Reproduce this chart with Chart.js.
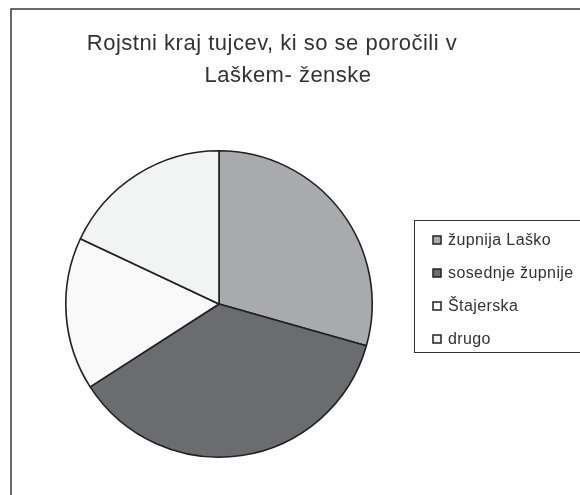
<!DOCTYPE html>
<html>
<head>
<meta charset="utf-8">
<script src="https://cdn.jsdelivr.net/npm/chart.js@4"></script>
<style>
  body { margin: 0; background: #fff; }
  #wrap { width: 580px; height: 495px; }
</style>
</head>
<body>
<div id="wrap"><canvas id="myChart" width="580" height="495"></canvas></div>
<script>
const categories = ['župnija Laško', 'sosednje župnije', 'Štajerska', 'drugo'];
const shares = [29.4, 36.5, 16.1, 18.0];
const sliceColors = ['#a9aaad', '#6b6c70', '#f9f9f9', '#f2f4f3'];
const titleLines = ['Rojstni kraj tujcev, ki so se poročili v', 'Laškem- ženske'];

const inkColor = '#231f20';
const fontFamily = '"Liberation Sans", Arial, sans-serif';

// frame, title and legend box drawn by hand
const decorations = {
  id: 'decorations',
  afterDraw(chart) {
    const ctx = chart.ctx;
    ctx.save();

    // outer frame (runs off the right / bottom edge)
    ctx.strokeStyle = '#3a3a3a';
    ctx.lineWidth = 1.5;
    ctx.strokeRect(11, 9, 620, 540);

    // title
    ctx.fillStyle = '#333';
    ctx.font = '22px ' + fontFamily;
    ctx.letterSpacing = '0.5px';
    ctx.textAlign = 'center';
    ctx.textBaseline = 'middle';
    ctx.fillText(titleLines[0], 272, 44);
    ctx.fillText(titleLines[1], 288, 76);

    // legend box
    ctx.lineWidth = 1;
    ctx.strokeStyle = '#333';
    ctx.strokeRect(414.5, 220.5, 200, 132);

    ctx.font = '16px ' + fontFamily;
    ctx.letterSpacing = '0.4px';
    ctx.textAlign = 'left';
    const colors = chart.data.datasets[0].backgroundColor;
    chart.data.labels.forEach((lbl, i) => {
      const y = 240 + i * 33;
      ctx.fillStyle = colors[i];
      ctx.fillRect(433, y - 4, 8, 8);
      ctx.strokeStyle = inkColor;
      ctx.lineWidth = 1.5;
      ctx.strokeRect(433, y - 4, 8, 8);
      ctx.fillStyle = '#333';
      ctx.fillText(lbl, 448, y + 1);
    });

    ctx.restore();
  }
};

const ctx = document.getElementById('myChart').getContext('2d');
new Chart(ctx, {
  type: 'pie',
  data: {
    labels: categories,
    datasets: [{
      data: shares,
      backgroundColor: sliceColors,
      borderColor: inkColor,
      borderWidth: 1.6
    }]
  },
  options: {
    responsive: false,
    animation: false,
    layout: {
      padding: { left: 65, right: 207, top: 150, bottom: 37 }
    },
    plugins: {
      legend: { display: false },
      title: { display: false },
      tooltip: { enabled: false }
    }
  },
  plugins: [decorations]
});
</script>
</body>
</html>
